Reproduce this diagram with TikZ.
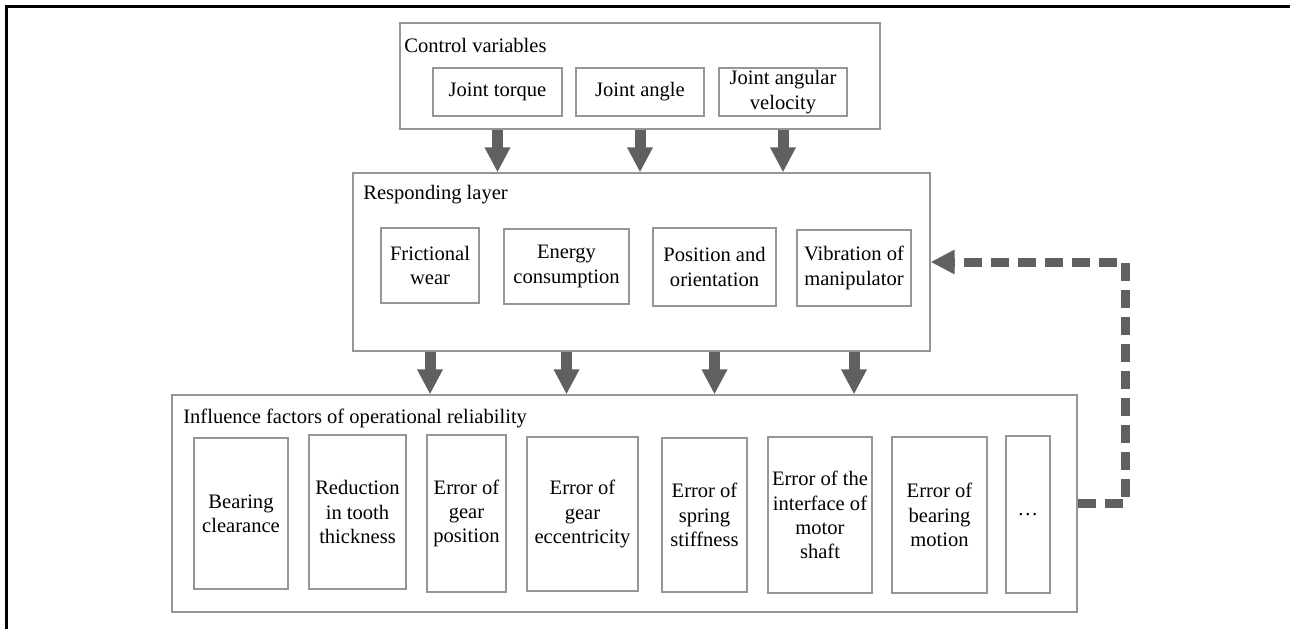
\documentclass[tikz,border=0pt]{standalone}
\usepackage{fontspec}
\setmainfont{Liberation Serif}
\newfontfamily\diagfont{Liberation Serif}
\usetikzlibrary{arrows.meta}
\definecolor{framegray}{RGB}{150,150,150}
\definecolor{arrowgray}{RGB}{96,96,96}
\begin{document}
\begin{tikzpicture}[x=0.02cm, y=-0.02cm,
    every node/.style={font=\diagfont\fontsize{11.7}{13.8}\selectfont},
    layer/.style n args={2}{rectangle, draw=framegray, line width=0.7pt, inner sep=0pt,
      minimum width=#1*0.02cm, minimum height=#2*0.02cm},
    item/.style n args={2}{rectangle, draw=framegray, line width=0.7pt, inner sep=0pt, align=center,
      minimum width=#1*0.02cm, minimum height=#2*0.02cm},
    heading/.style={anchor=base west, inner sep=0pt},
    blockarrow/.style={draw=arrowgray, line width=0.22cm, -{Triangle[width=0.48cm,length=0.5cm]}},
    feedback/.style={draw=arrowgray, line width=0.18cm, dash pattern=on 0.36cm off 0.18cm,
      -{Triangle[width=0.46cm,length=0.48cm]}}]
   \useasboundingbox (0,0) rectangle (1290,629);
   \draw[line width=2.5*0.02cm] (6.5,629) -- (6.5,6.5) -- (1290,6.5);

   \node[layer={480}{106}] (ctrl) at (640,76) {};
   \node[heading] (ctrltitle) at (404,52) {Control variables};
   \node[item={129}{48}] (jt) at (497.5,92) {Joint torque};
   \node[item={128}{48}] (ja) at (640,92) {Joint angle};
   \node[item={128}{48}] (jv) at (783,92) {Joint angular\\velocity};

   \node[layer={577}{178}] (resp) at (641.5,262) {};
   \node[heading] (resptitle) at (363,199) {Responding layer};
   \node[item={98}{75}] (fw) at (430,265.5) {Frictional\\wear};
   \node[item={125}{75}] (ec) at (566.5,266.5) {Energy\\consumption};
   \node[item={123}{78}] (po) at (714.5,267) {Position and\\orientation};
   \node[item={114}{76}] (vm) at (854,268) {Vibration of\\manipulator};

   \node[layer={905}{217}] (infl) at (624.5,503.5) {};
   \node[heading] (infltitle) at (183,423) {Influence factors of operational reliability};
   \node[item={94}{151}] (bc) at (241,513.5) {Bearing\\clearance};
   \node[item={97}{154}] (rt) at (357.5,512) {Reduction\\in tooth\\thickness};
   \node[item={79}{157}] (gp) at (466.5,513.5) {Error of\\gear\\position};
   \node[item={111}{154}] (ge) at (582.5,514) {Error of\\gear\\eccentricity};
   \node[item={85}{154}] (ss) at (704.5,515) {Error of\\spring\\stiffness};
   \node[item={104}{156}] (ms) at (820,515) {Error of the\\interface of\\motor\\shaft};
   \node[item={95}{156}] (bm) at (939.5,515) {Error of\\bearing\\motion};
   \node[item={44}{157}] (more) at (1028,514.5) {\dots};

   \draw[blockarrow] (jt |- ctrl.south) to (jt |- resp.north);
   \draw[blockarrow] (ja |- ctrl.south) to (ja |- resp.north);
   \draw[blockarrow] (jv |- ctrl.south) to (jv |- resp.north);

   \draw[blockarrow] (fw |- resp.south) to (fw |- infl.north);
   \draw[blockarrow] (ec |- resp.south) to (ec |- infl.north);
   \draw[blockarrow] (po |- resp.south) to (po |- infl.north);
   \draw[blockarrow] (vm |- resp.south) to (vm |- infl.north);

   \coordinate (turn) at (1125,0);
   \draw[feedback] (infl.east) -- (infl.east -| turn) -- (resp.east -| turn) -- (resp.east);
\end{tikzpicture}
\end{document}
